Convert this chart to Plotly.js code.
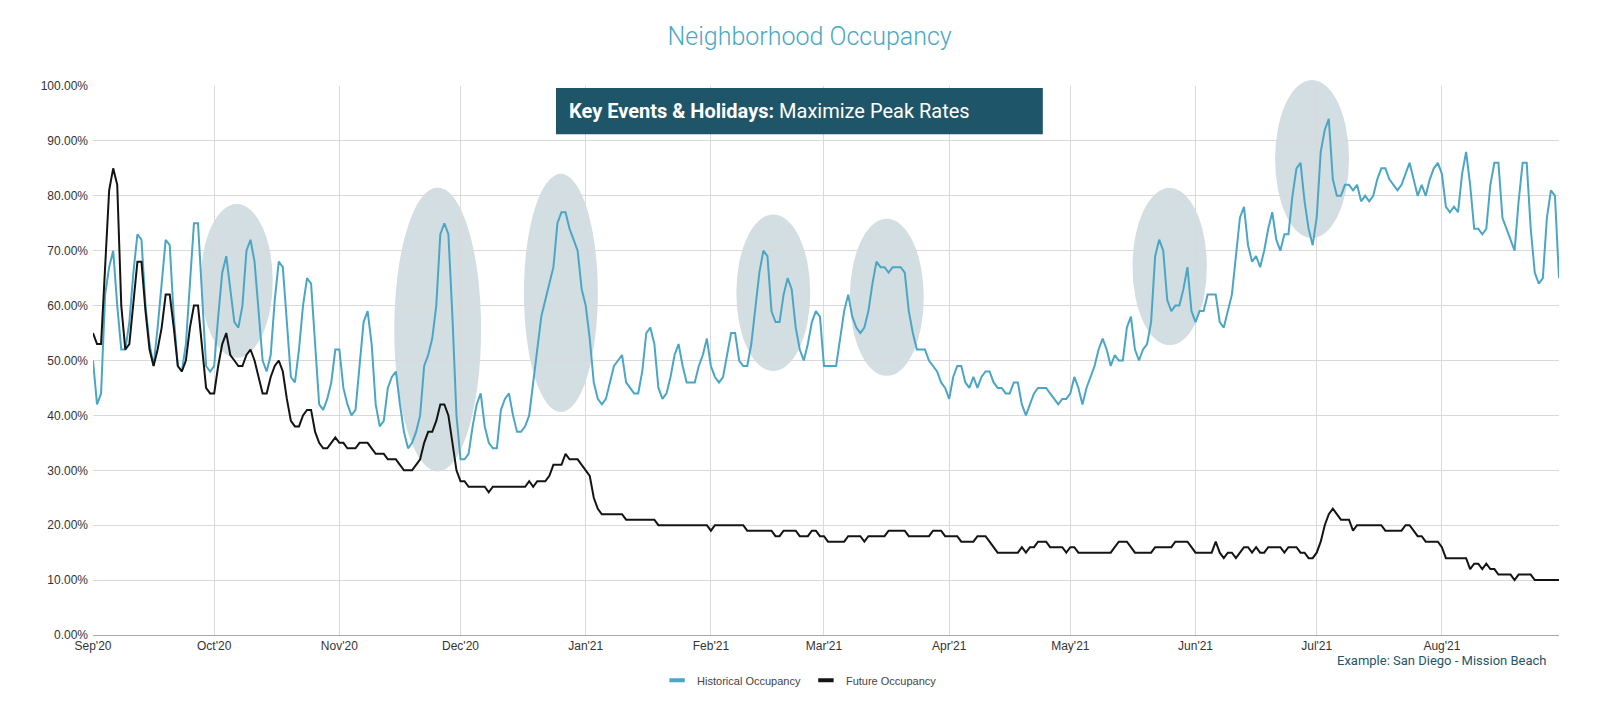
<!DOCTYPE html>
<html>
<head>
<meta charset="utf-8">
<script src="https://cdn.plot.ly/plotly-3.0.1.min.js"></script>
<style>
  html, body { margin: 0; padding: 0; background: #ffffff; }
  #chart { width: 1600px; height: 708px; }
</style>
</head>
<body>
<div id="chart"></div>
<script>
// ---------------- DATA ----------------
const START_DATE = '2020-09-01';
const END_DATE = '2021-08-30';

// Daily historical occupancy (%), Sep 1 2020 -> Aug 30 2021
const HISTORICAL = [
  50, 42, 44, 62, 67, 70, 60, 52, 52, 57,
  66, 73, 72, 60, 53, 49, 56, 64, 72, 71,
  58, 49, 48, 53, 64, 75, 75, 61, 49, 48,
  49, 58, 66, 69, 63, 57, 56, 60, 70, 72,
  68, 59, 50, 48, 51, 61, 68, 67, 56, 47,
  46, 52, 60, 65, 64, 53, 42, 41, 43, 46,
  52, 52, 45, 42, 40, 41, 49, 57, 59, 53,
  42, 38, 39, 45, 47, 48, 42, 37, 34, 35,
  37, 40, 49, 51, 54, 60, 73, 75, 73, 58,
  40, 32, 32, 33, 38, 42, 44, 38, 35, 34,
  34, 41, 43, 44, 40, 37, 37, 38, 40, 46,
  53, 58, 61, 64, 67, 75, 77, 77, 74, 72,
  70, 63, 60, 54, 46, 43, 42, 43, 46, 49,
  50, 51, 46, 45, 44, 44, 48, 55, 56, 53,
  45, 43, 44, 47, 51, 53, 49, 46, 46, 46,
  49, 51, 54, 49, 47, 46, 47, 51, 55, 55,
  50, 49, 49, 53, 59, 66, 70, 69, 59, 57,
  57, 62, 65, 63, 56, 52, 50, 53, 57, 59, 58,
  49, 49, 49, 49, 54, 59, 62, 58, 56, 55,
  56, 59, 64, 68, 67, 67, 66, 67, 67, 67,
  66, 59, 55, 52, 52, 52, 50, 49, 48, 46, 45,
  43, 47, 49, 49, 46, 45, 47, 45, 47, 48,
  48, 46, 45, 45, 44, 44, 46, 46, 42, 40,
  42, 44, 45, 45, 45, 44, 43, 42, 43, 43,
  44, 47, 45, 42, 45, 47, 49, 52, 54, 52,
  49, 51, 50, 50, 56, 58, 52, 50, 52, 53, 57,
  69, 72, 70, 61, 59, 60, 60, 63, 67, 59,
  57, 59, 59, 62, 62, 62, 57, 56, 59, 62,
  69, 76, 78, 71, 68, 69, 67, 70, 74, 77,
  72, 70, 73, 73, 80, 85, 86, 79, 74, 71,
  76, 88, 92, 94, 83, 80, 80, 82, 82, 81,
  82, 79, 80, 79, 80, 83, 85, 85, 83, 82,
  81, 82, 84, 86, 83, 80, 82, 80, 83, 85,
  86, 84, 78, 77, 78, 77, 84, 88, 82, 74,
  74, 73, 74, 82, 86, 86, 76, 74, 72, 70,
  79, 86, 86, 74, 66, 64, 65, 76, 81, 80, 65
];

// Daily future (on-the-books) occupancy (%), same days
const FUTURE = [
  55, 53, 53, 67, 81, 85, 82, 60, 52, 53,
  60, 68, 68, 59, 52, 49, 52, 56, 62, 62,
  56, 49, 48, 50, 56, 60, 60, 53, 45, 44,
  44, 49, 53, 55, 51, 50, 49, 49, 51, 52,
  50, 47, 44, 44, 47, 49, 50, 48, 43, 39,
  38, 38, 40, 41, 41, 37, 35, 34, 34, 35,
  36, 35, 35, 34, 34, 34, 35, 35, 35, 34,
  33, 33, 33, 32, 32, 32, 31, 30, 30, 30,
  31, 32, 35, 37, 37, 39, 42, 42, 40, 35,
  30, 28, 28, 27, 27, 27, 27, 27, 26, 27,
  27, 27, 27, 27, 27, 27, 27, 27, 28, 27,
  28, 28, 28, 29, 31, 31, 31, 33, 32, 32,
  32, 31, 30, 29, 25, 23, 22, 22, 22, 22,
  22, 22, 21, 21, 21, 21, 21, 21, 21, 21,
  20, 20, 20, 20, 20, 20, 20, 20, 20, 20,
  20, 20, 20, 19, 20, 20, 20, 20, 20, 20,
  20, 20, 19, 19, 19, 19, 19, 19, 19, 18,
  18, 19, 19, 19, 19, 18, 18, 18, 19, 19, 18,
  18, 17, 17, 17, 17, 17, 18, 18, 18, 18,
  17, 18, 18, 18, 18, 18, 19, 19, 19, 19,
  19, 18, 18, 18, 18, 18, 18, 19, 19, 19, 18,
  18, 18, 18, 17, 17, 17, 17, 18, 18, 18,
  17, 16, 15, 15, 15, 15, 15, 15, 16, 15,
  16, 16, 17, 17, 17, 16, 16, 16, 16, 15,
  16, 16, 15, 15, 15, 15, 15, 15, 15, 15,
  15, 16, 17, 17, 17, 16, 15, 15, 15, 15, 15,
  16, 16, 16, 16, 16, 17, 17, 17, 17, 16,
  15, 15, 15, 15, 15, 17, 15, 14, 15, 15,
  14, 15, 16, 16, 15, 16, 15, 15, 16, 16,
  16, 16, 15, 16, 16, 16, 15, 15, 14, 14,
  15, 17, 20, 22, 23, 22, 21, 21, 21, 19,
  20, 20, 20, 20, 20, 20, 20, 19, 19, 19,
  19, 19, 20, 20, 19, 18, 18, 17, 17, 17,
  17, 16, 14, 14, 14, 14, 14, 14, 12, 13,
  13, 12, 13, 12, 12, 11, 11, 11, 11, 10,
  11, 11, 11, 11, 10, 10, 10, 10, 10, 10, 10
];

const X_TICK_VALS = ['2020-09-01','2020-10-01','2020-11-01','2020-12-01','2021-01-01','2021-02-01',
                     '2021-03-01','2021-04-01','2021-05-01','2021-06-01','2021-07-01','2021-08-01'];
const X_TICK_TEXT = ["Sep'20","Oct'20","Nov'20","Dec'20","Jan'21","Feb'21",
                     "Mar'21","Apr'21","May'21","Jun'21","Jul'21","Aug'21"];
const Y_TICK_VALS = [0, 10, 20, 30, 40, 50, 60, 70, 80, 90, 100];
const Y_TICK_TEXT = ['0.00%','10.00%','20.00%','30.00%','40.00%','50.00%',
                     '60.00%','70.00%','80.00%','90.00%','100.00%'];

const SERIES_NAMES = ['Historical Occupancy', 'Future Occupancy'];

// Highlighted event windows: day offsets from START_DATE and % span
const EVENT_DAY_FROM = [26.7, 74.6, 106.7, 159.3, 187.4, 257.4, 292.7];
const EVENT_DAY_TO   = [44.5, 96.1, 125.0, 177.6, 205.7, 275.8, 311.0];
const EVENT_PCT_LOW  = [50.5, 29.8, 40.6, 48.1, 47.2, 52.8, 72.3];
const EVENT_PCT_HIGH = [78.5, 81.5, 84.0, 76.6, 75.8, 81.4, 101.1];

// ---------------- BUILD ----------------
function dayToDate(i) {
  const d = new Date(Date.UTC(2020, 8, 1 + i));
  return d.toISOString().slice(0, 10);
}
const DATES = HISTORICAL.map((_, i) => dayToDate(i));
const RANGE_DAYS = (Date.parse(END_DATE) - Date.parse(START_DATE)) / 86400000;

const BLUE = '#4ba6c5';
const BLACK = '#141414';
const TEAL_DARK = '#1f5569';

const traces = [
  { x: DATES, y: HISTORICAL, type: 'scatter', mode: 'lines', name: SERIES_NAMES[0],
    line: { color: BLUE, width: 2 }, showlegend: false },
  { x: DATES, y: FUTURE, type: 'scatter', mode: 'lines', name: SERIES_NAMES[1],
    line: { color: BLACK, width: 2 }, showlegend: false },
  // legend entries drawn as short thick dashes
  { x: [null], y: [null], type: 'scatter', mode: 'markers', name: SERIES_NAMES[0],
    marker: { symbol: 'line-ew', size: 11, color: BLUE, line: { color: BLUE, width: 4 } } },
  { x: [null], y: [null], type: 'scatter', mode: 'markers', name: SERIES_NAMES[1],
    marker: { symbol: 'line-ew', size: 11, color: BLACK, line: { color: BLACK, width: 4 } } }
];

const shapes = EVENT_DAY_FROM.map((d0, i) => ({
  type: 'circle', xref: 'paper', yref: 'paper', layer: 'below',
  x0: d0 / RANGE_DAYS, x1: EVENT_DAY_TO[i] / RANGE_DAYS,
  y0: EVENT_PCT_LOW[i] / 100, y1: EVENT_PCT_HIGH[i] / 100,
  fillcolor: 'rgba(118,156,164,0.33)', line: { width: 0 }
}));

// Key events banner
shapes.push({
  type: 'rect', xref: 'paper', yref: 'paper', layer: 'above',
  x0: 0.3158, x1: 0.6479, y0: 0.912, y1: 0.9965,
  fillcolor: TEAL_DARK, line: { width: 0 }
});

const layout = {
  width: 1600, height: 708,
  margin: { l: 93, r: 41, t: 86, b: 73, pad: 0 },
  paper_bgcolor: '#ffffff',
  plot_bgcolor: 'rgba(0,0,0,0)',
  title: {
    text: 'Neighborhood Occupancy',
    font: { family: 'Roboto, "Open Sans", sans-serif', size: 25, color: '#4ba8c3', weight: 300 },
    x: 0.506, xref: 'container', xanchor: 'center',
    y: 0.949, yref: 'container', yanchor: 'middle'
  },
  xaxis: {
    type: 'date',
    range: [START_DATE, END_DATE],
    tickmode: 'array', tickvals: X_TICK_VALS, ticktext: X_TICK_TEXT,
    showgrid: true, gridcolor: '#d9d9d9', gridwidth: 1,
    showline: true, linecolor: '#a8a8a8', linewidth: 1,
    zeroline: false, ticks: '',
    tickfont: { family: '"Liberation Sans", Arial, sans-serif', size: 12, color: '#333333' },
    fixedrange: true
  },
  yaxis: {
    range: [0, 100],
    tickmode: 'array', tickvals: Y_TICK_VALS, ticktext: Y_TICK_TEXT,
    showgrid: true, gridcolor: '#d9d9d9', gridwidth: 1,
    zeroline: false, showline: false, ticks: '',
    ticklabelstandoff: 4,
    tickfont: { family: '"Liberation Sans", Arial, sans-serif', size: 12, color: '#333333' },
    fixedrange: true
  },
  showlegend: true,
  legend: {
    orientation: 'h', x: 0.482, xanchor: 'center', y: -0.0825, yanchor: 'middle',
    font: { family: '"Liberation Sans", Arial, sans-serif', size: 11, color: '#444444' },
    itemwidth: 30, tracegroupgap: 0, bgcolor: 'rgba(0,0,0,0)'
  },
  shapes: shapes,
  annotations: [
    {
      text: '<b>Key Events &amp; Holidays:</b> Maximize Peak Rates',
      xref: 'paper', yref: 'paper', x: 0.3235, y: 0.954,
      xanchor: 'left', yanchor: 'middle', showarrow: false,
      font: { family: 'Roboto, "Open Sans", sans-serif', size: 20, color: '#ffffff' }
    },
    {
      text: 'Example: San Diego - Mission Beach',
      xref: 'paper', yref: 'paper', x: 0.993, y: -0.046,
      xanchor: 'right', yanchor: 'middle', showarrow: false,
      font: { family: 'Roboto, "Open Sans", sans-serif', size: 13, color: TEAL_DARK }
    }
  ]
};

Plotly.newPlot('chart', traces, layout, { displayModeBar: false, staticPlot: true });
</script>
</body>
</html>
